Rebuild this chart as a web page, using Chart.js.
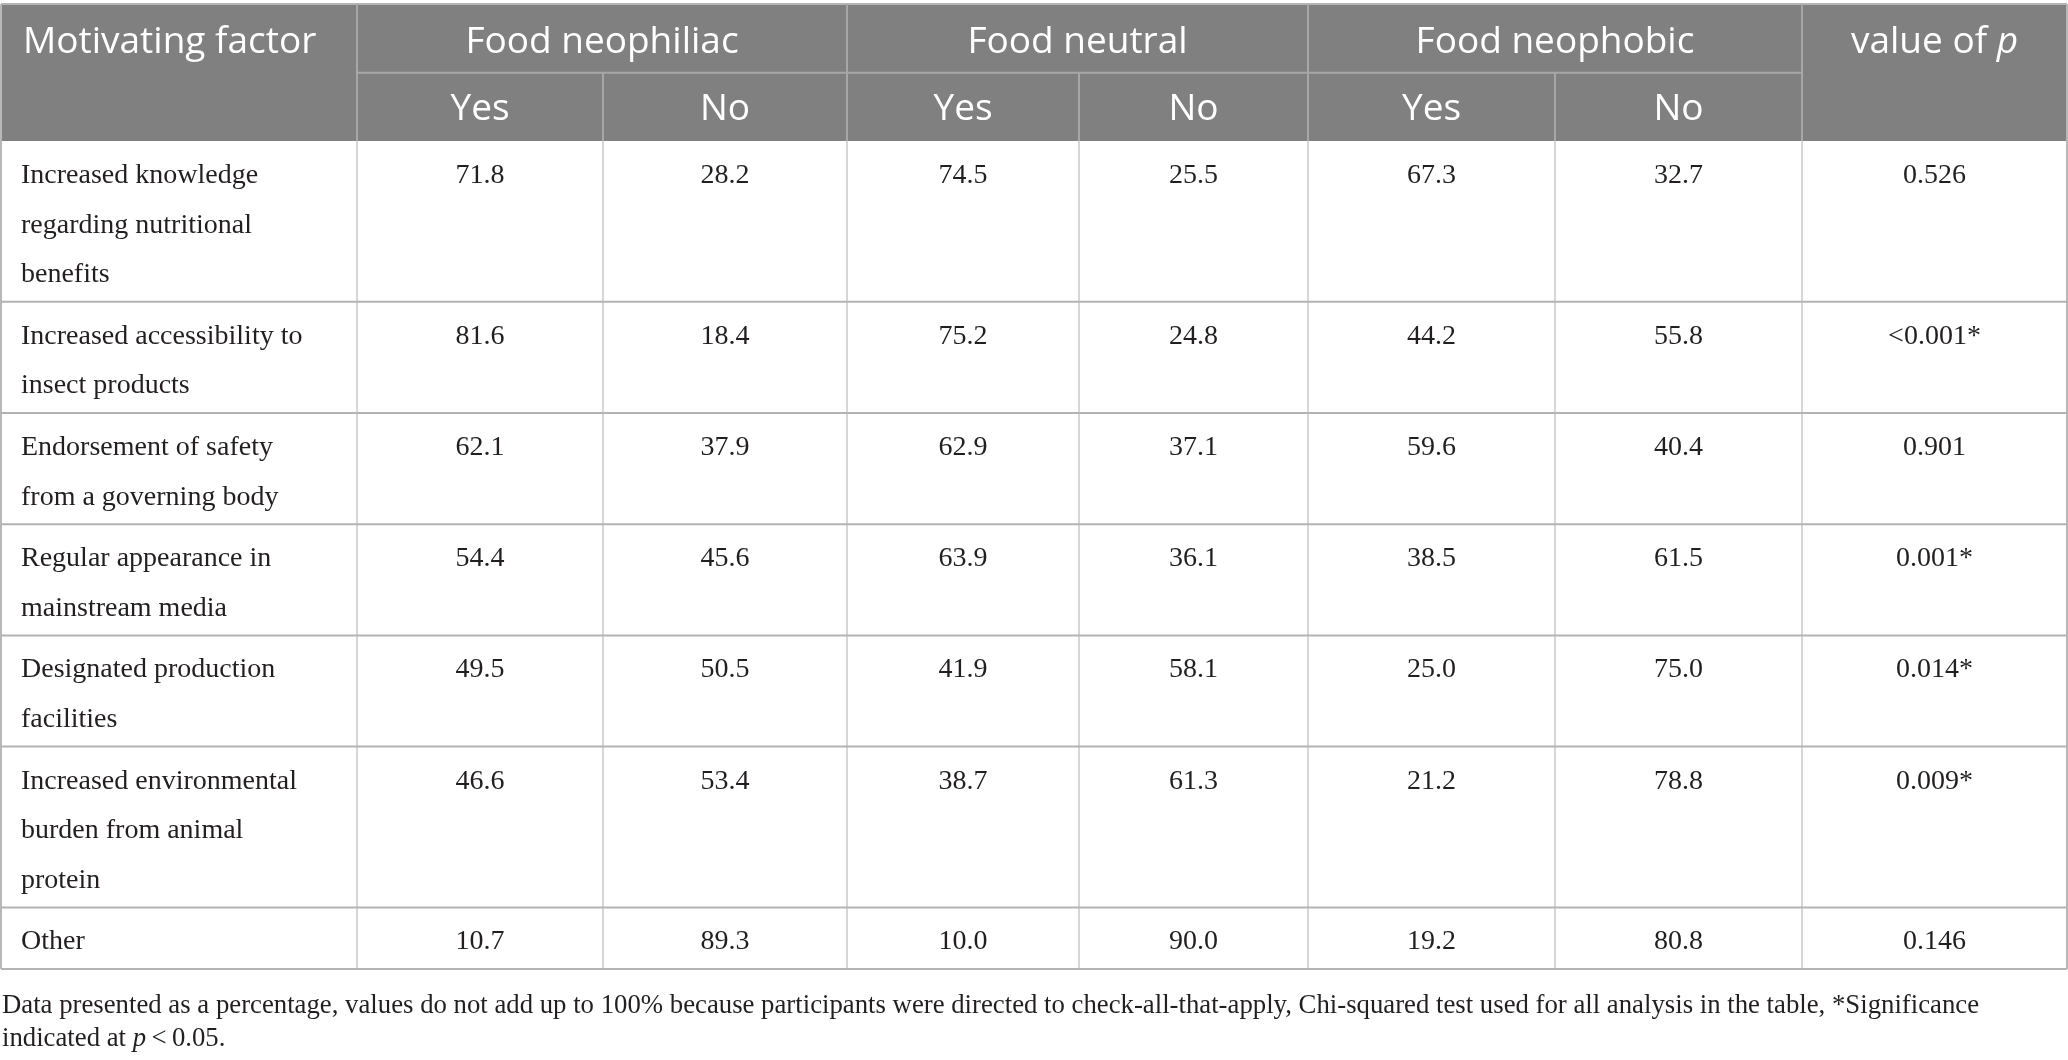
<!DOCTYPE html>
<html>
<head>
<meta charset="utf-8">
<script src="https://cdn.jsdelivr.net/npm/chart.js@4.4.1/dist/chart.umd.min.js"></script>
<style>
    html, body { margin: 0; padding: 0; background: #fff; overflow: hidden; }
    #wrap { width: 2068px; height: 1060px; position: relative; }
</style>
</head>
<body>
<div id="wrap"><canvas id="motivChart"></canvas></div>
<script>
// Data of the table
const factorLines = [
    ['Increased knowledge', 'regarding nutritional', 'benefits'],
    ['Increased accessibility to', 'insect products'],
    ['Endorsement of safety', 'from a governing body'],
    ['Regular appearance in', 'mainstream media'],
    ['Designated production', 'facilities'],
    ['Increased environmental', 'burden from animal', 'protein'],
    ['Other']
];
const groups = ['Food neophiliac', 'Food neutral', 'Food neophobic'];
const answers = ['Yes', 'No'];
const neophiliacYes = [71.8, 81.6, 62.1, 54.4, 49.5, 46.6, 10.7];
const neophiliacNo  = [28.2, 18.4, 37.9, 45.6, 50.5, 53.4, 89.3];
const neutralYes    = [74.5, 75.2, 62.9, 63.9, 41.9, 38.7, 10.0];
const neutralNo     = [25.5, 24.8, 37.1, 36.1, 58.1, 61.3, 90.0];
const neophobicYes  = [67.3, 44.2, 59.6, 38.5, 25.0, 21.2, 19.2];
const neophobicNo   = [32.7, 55.8, 40.4, 61.5, 75.0, 78.8, 80.8];
const pValues = ['0.526', '<0.001*', '0.901', '0.001*', '0.014*', '0.009*', '0.146'];
const noteLines = [
    [['Data presented as a percentage, values do not add up to 100% because participants were directed to check-all-that-apply, Chi-squared test used for all analysis in the table, *Significance', false]],
    [['indicated at ', false], ['p', true], ['\u2009<\u20090.05.', false]]
];

// Layout (in page pixels, the scales run 0..W and 0..H)
const W = 2068, H = 1060;
const colEdges = [1, 357, 603, 847, 1079, 1308, 1555, 1802, 2067];
const headTop = 4, headMid = 72.7, headBot = 141;
const lineH = 49.6, rowPad = 12;

const rowEdges = [headBot];
factorLines.forEach(lines => rowEdges.push(rowEdges[rowEdges.length - 1] + lines.length * lineH + rowPad));

const valueCols = [neophiliacYes, neophiliacNo, neutralYes, neutralNo, neophobicYes, neophobicNo];
const colMid = i => (colEdges[i] + colEdges[i + 1]) / 2;

// Build one point per text item
const cells = [];
cells.push({ x: 23, y: 53, parts: [['Motivating factor', false]], kind: 'head', align: 'left' });
groups.forEach((g, gi) => {
    cells.push({ x: (colEdges[1 + gi * 2] + colEdges[3 + gi * 2]) / 2, y: 53, parts: [[g, false]], kind: 'head', align: 'center' });
    answers.forEach((a, ai) => {
        cells.push({ x: colMid(1 + gi * 2 + ai), y: 120, parts: [[a, false]], kind: 'head', align: 'center' });
    });
});
cells.push({ x: colMid(7), y: 53, parts: [['value of ', false], ['p', true]], kind: 'head', align: 'center' });

factorLines.forEach((lines, r) => {
    const top = rowEdges[r];
    lines.forEach((ln, li) => {
        cells.push({ x: 21, y: top + 42 + li * lineH, parts: [[ln, false]], kind: 'body', align: 'left' });
    });
    valueCols.forEach((col, c) => {
        cells.push({ x: colMid(c + 1), y: top + 42, parts: [[col[r].toFixed(1), false]], kind: 'body', align: 'center' });
    });
    cells.push({ x: colMid(7), y: top + 42, parts: [[pValues[r], false]], kind: 'body', align: 'center' });
});
noteLines.forEach((parts, i) => {
    cells.push({ x: 2, y: 1012.5 + i * 33, parts: parts, kind: 'note', align: 'left' });
});

const FONTS = {
    head: { size: 37, family: '"Open Sans"', color: '#ffffff' },
    body: { size: 28, family: '"Liberation Serif"', color: '#231f20' },
    note: { size: 26, family: '"Liberation Serif"', color: '#231f20' }
};

function drawParts(ctx, parts, x, y, align, f) {
    const fontOf = it => (it ? 'italic ' : '') + f.size + 'px ' + f.family;
    let total = 0;
    parts.forEach(p => { ctx.font = fontOf(p[1]); total += ctx.measureText(p[0]).width; });
    let cx = align === 'center' ? x - total / 2 : x;
    ctx.fillStyle = f.color;
    ctx.textAlign = 'left';
    ctx.textBaseline = 'alphabetic';
    parts.forEach(p => {
        ctx.font = fontOf(p[1]);
        ctx.fillText(p[0], cx, y);
        cx += ctx.measureText(p[0]).width;
    });
}

const tablePlugin = {
    id: 'tablePlugin',
    beforeDatasetsDraw(chart) {
        const ctx = chart.ctx;
        const xs = chart.scales.x, ys = chart.scales.y;
        const X = v => xs.getPixelForValue(v), Y = v => ys.getPixelForValue(v);
        ctx.save();
        // header background
        ctx.fillStyle = '#7f807f';
        ctx.fillRect(X(colEdges[0]), Y(headTop), X(colEdges[8]) - X(colEdges[0]), Y(headBot) - Y(headTop));

        const line = (x1, y1, x2, y2, color, w) => {
            ctx.strokeStyle = color; ctx.lineWidth = w;
            ctx.beginPath(); ctx.moveTo(X(x1), Y(y1)); ctx.lineTo(X(x2), Y(y2)); ctx.stroke();
        };
        // header lines
        const hc = '#a6a7a6';
        line(colEdges[0], headTop, colEdges[8], headTop, '#b5b5b5', 2);
        line(colEdges[1], headMid, colEdges[7], headMid, hc, 2);
        [1, 3, 5, 7].forEach(i => line(colEdges[i], headTop, colEdges[i], headBot, hc, 2));
        [2, 4, 6].forEach(i => line(colEdges[i], headMid, colEdges[i], headBot, hc, 2));

        // body lines
        const last = rowEdges[rowEdges.length - 1];
        for (let i = 1; i < 8; i++) line(colEdges[i], headBot, colEdges[i], last, '#c9c9c9', 1.5);
        line(colEdges[0], headTop, colEdges[0], last, '#b8b8b8', 2);
        line(colEdges[8], headTop, colEdges[8], last, '#b8b8b8', 2);
        rowEdges.slice(1).forEach(y => line(colEdges[0], y, colEdges[8], y, '#b3b3b3', 2));
        ctx.restore();
    },
    afterDatasetsDraw(chart) {
        const ctx = chart.ctx;
        const meta = chart.getDatasetMeta(0);
        const raw = chart.data.datasets[0].data;
        ctx.save();
        // fit the note to the width used in the reference
        ctx.font = FONTS.note.size + 'px ' + FONTS.note.family;
        const wNote = ctx.measureText(noteLines[0][0][0]).width;
        const noteFont = Object.assign({}, FONTS.note, { size: Math.max(22, Math.min(30, FONTS.note.size * 1978 / wNote)) });
        meta.data.forEach((el, i) => {
            const d = raw[i];
            const f = d.kind === 'note' ? noteFont : FONTS[d.kind];
            drawParts(ctx, d.parts, el.x, el.y, d.align, f);
        });
        ctx.restore();
    }
};

const ctx = document.getElementById('motivChart').getContext('2d');
const motivChart = new Chart(ctx, {
    type: 'scatter',
    data: {
        datasets: [{
            label: 'cells',
            data: cells,
            pointRadius: 0,
            pointHoverRadius: 0
        }]
    },
    options: {
        responsive: true,
        maintainAspectRatio: false,
        animation: false,
        layout: { padding: 0 },
        events: [],
        scales: {
            x: { type: 'linear', min: 0, max: W, display: false },
            y: { type: 'linear', min: 0, max: H, reverse: true, display: false }
        },
        plugins: {
            legend: { display: false },
            tooltip: { enabled: false },
            title: { display: false }
        }
    },
    plugins: [tablePlugin]
});
</script>
</body>
</html>
